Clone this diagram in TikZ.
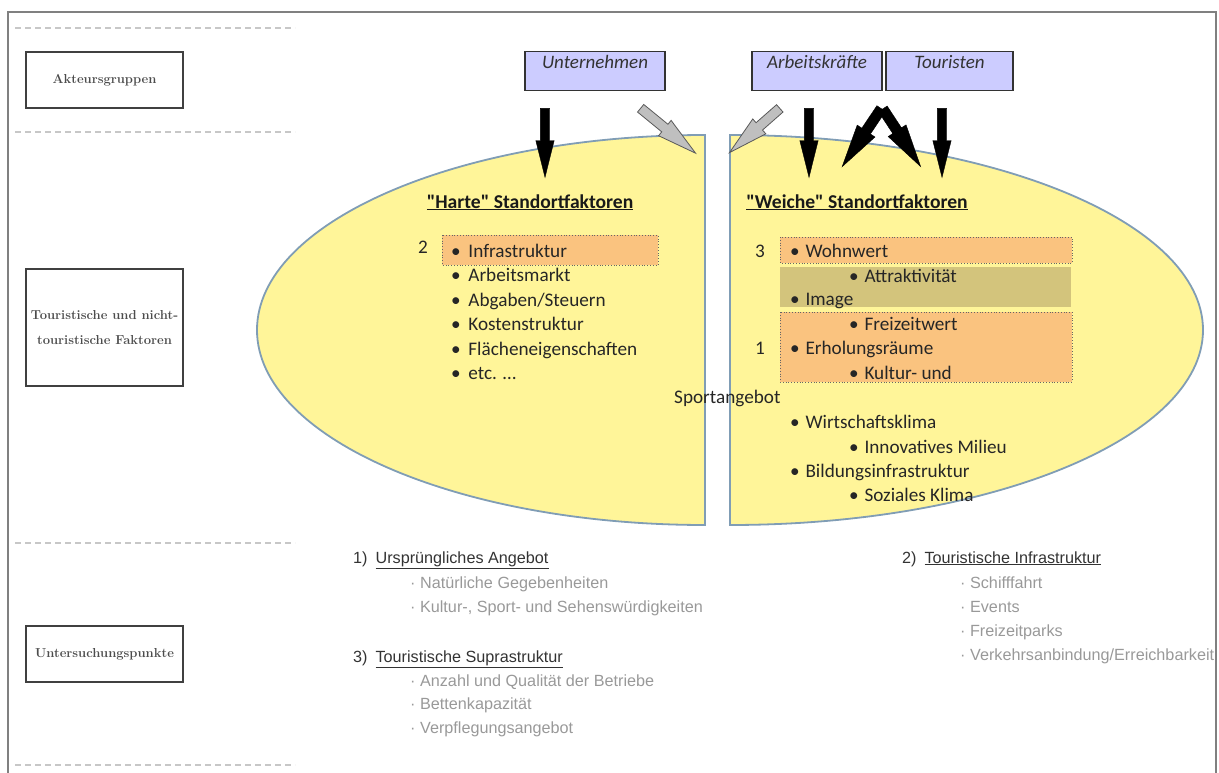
\documentclass[tikz,border=0pt]{standalone}
\usepackage{fontspec}
\usetikzlibrary{shapes.arrows}
\newfontfamily\calfont{Carlito}
\newfontfamily\arialfont{Liberation Sans}
\definecolor{GelbFill}{HTML}{FFF599}
\definecolor{RandBlau}{HTML}{809DB5}
\definecolor{Lavendel}{HTML}{CCCCFF}
\definecolor{OrangeFill}{HTML}{FAC37F}
\definecolor{OlivFill}{HTML}{D3C47C}

\begin{document}
\begin{tikzpicture}[x=1pt,y=-1pt]
    \useasboundingbox (0,0) rectangle (1219,773);
    \tikzset{
      Rahmen/.style = {draw=black!50, line width=1.5pt},
      Trenner/.style = {draw=black!22, line width=1.2pt, dash pattern=on 6pt off 4pt},
      RowBox/.style = {draw=black!75, line width=1.3pt, minimum width=157pt, inner sep=0pt, align=center,
        text=black!70, font=\bfseries\fontsize{13}{25}\selectfont},
      ActorBox/.style = {draw=black!80, line width=1.2pt, fill=Lavendel, anchor=north, inner xsep=0pt,
        inner ysep=3.5pt, text height=13pt, text depth=19pt, text=black!80, font=\calfont\itshape\fontsize{19}{20}\selectfont},
      Half/.style = {draw=RandBlau, line width=1.8pt, fill=GelbFill},
      Titel/.style = {anchor=base, text=black!90, font=\calfont\bfseries\fontsize{19.6}{22}\selectfont},
      Punkt/.style = {anchor=base west, inner sep=0pt, text=black!85, font=\calfont\fontsize{19.2}{22}\selectfont},
      OrangeBox/.style = {fill=OrangeFill, draw=black!60, dotted, line width=0.8pt},
      Kopf/.style = {anchor=base west, inner sep=0pt, text=black!80, font=\arialfont\fontsize{16.2}{18}\selectfont},
      Unterpunkt/.style = {anchor=base west, inner sep=0pt, text=black!40, font=\arialfont\fontsize{16.2}{18}\selectfont},
      BlackArrow/.style = {single arrow, draw=black, fill=black, inner xsep=0pt, inner ysep=4.5pt,
        single arrow head extend=4.5pt, single arrow tip angle=28, sloped, allow upside down, midway},
      GrayArrow/.style = {BlackArrow, draw=black!65, fill=black!25, line width=0.8pt, inner ysep=4.5pt,
        single arrow head extend=5pt}
    }
    \draw[Rahmen] (8,773) -- (8,12) -- (1216,12) -- (1216,773);
    \foreach \yy in {28,132,543,765}
      \draw[Trenner] (15,\yy) -- (295,\yy);

    \node[RowBox, minimum height=56pt] (akt) at (104.5,80) {Akteursgruppen};
    \node[RowBox, minimum height=117pt] (fak) at (104.5,327.5) {Touristische und nicht-\\touristische Faktoren};
    \node[RowBox, minimum height=56pt] (unt) at (104.5,654) {Untersuchungspunkte};

    \node[ActorBox, minimum width=140pt] (un) at (595,51) {Unternehmen};
    \node[ActorBox, minimum width=130pt] (ak) at (817,51) {Arbeitskräfte};
    \node[ActorBox, minimum width=127pt] (to) at (949.5,51) {Touristen};

    \draw[Half] (705,135) arc[start angle=-90, end angle=-270, x radius=448, y radius=195] -- cycle;
    \draw[Half] (730,525) -- (730,135) arc[start angle=-90, end angle=90, x radius=473, y radius=195] -- cycle;

    \node[Titel] (hart) at (530,208) {\underline{"Harte" Standortfaktoren}};
    \node[Titel] (weich) at (857,208) {\underline{"Weiche" Standortfaktoren}};

    \draw[OrangeBox] (442,235) rectangle (658,265);
    \draw[OrangeBox] (780,237) rectangle (1072,263);
    \fill[OlivFill] (780,267) rectangle (1071,307);
    \draw[OrangeBox] (780,312) rectangle (1072,382);

    \node[Punkt] (n2) at (418,253) {2};
    \node[Punkt] (n3) at (755,257) {3};
    \node[Punkt] (n1) at (755,354) {1};
    \foreach \txt [count=\i from 0] in {Infrastruktur, Arbeitsmarkt, Abgaben/Steuern, Kostenstruktur,
        Flächeneigenschaften, {etc. \ldots}}
      \node[Punkt] (h\i) at (451,257+24.5*\i) {•\hspace{0.4em}\txt};
    \foreach \xx/\yy/\txt [count=\i] in {790/257/Wohnwert, 849/282/Attraktivität, 790/305/Image,
        849/330/Freizeitwert, 790/354/Erholungsräume, 849/379/Kultur- und, 790/428/Wirtschaftsklima,
        849/453/Innovatives Milieu, 790/477/Bildungsinfrastruktur, 849/501/Soziales Klima}
      \node[Punkt] (w\i) at (\xx,\yy) {•\hspace{0.3em}\txt};
    \node[Punkt] (sport) at (674,403) {Sportangebot};

    \coordinate (p1a) at (545,99);  \coordinate (p1b) at (545,168);
    \coordinate (p2a) at (633,102); \coordinate (p2b) at (688,147);
    \coordinate (p3a) at (787,102); \coordinate (p3b) at (737,146);
    \coordinate (p4a) at (809,99);  \coordinate (p4b) at (809,168);
    \coordinate (p5a) at (887,100); \coordinate (p5b) at (848,158);
    \coordinate (p6a) at (877,100); \coordinate (p6b) at (915,158);
    \coordinate (p7a) at (942,99);  \coordinate (p7b) at (942,168);
    \path (p1a) -- (p1b) node[BlackArrow, minimum height=69pt] {};
    \path (p2a) -- (p2b) node[GrayArrow, minimum height=71pt] {};
    \path (p3a) -- (p3b) node[GrayArrow, minimum height=67pt] {};
    \path (p4a) -- (p4b) node[BlackArrow, minimum height=69pt] {};
    \path (p5a) -- (p5b) node[BlackArrow, minimum height=70pt, inner ysep=5pt, single arrow head extend=5.5pt] {};
    \path (p6a) -- (p6b) node[BlackArrow, minimum height=69pt, inner ysep=5pt, single arrow head extend=5.5pt] {};
    \path (p7a) -- (p7b) node[BlackArrow, minimum height=69pt] {};

    \node[Kopf] (u1) at (353,563) {1)\hspace{8pt}\underline{Ursprüngliches Angebot}};
    \foreach \txt [count=\i from 0] in {Natürliche Gegebenheiten, {Kultur-, Sport- und Sehenswürdigkeiten}}
      \node[Unterpunkt] (u1\i) at (410,588+24.3*\i) {· \txt};
    \node[Kopf] (u3) at (353,662) {3)\hspace{8pt}\underline{Touristische Suprastruktur}};
    \foreach \txt [count=\i from 0] in {Anzahl und Qualität der Betriebe, Bettenkapazität, Verpflegungsangebot}
      \node[Unterpunkt] (u3\i) at (410,686+23.6*\i) {· \txt};
    \node[Kopf] (u2) at (902,563) {2)\hspace{8pt}\underline{Touristische Infrastruktur}};
    \foreach \txt [count=\i from 0] in {Schifffahrt, Events, Freizeitparks, Verkehrsanbindung/Erreichbarkeit}
      \node[Unterpunkt] (u2\i) at (960,588+24.3*\i) {· \txt};
\end{tikzpicture}
\end{document}
